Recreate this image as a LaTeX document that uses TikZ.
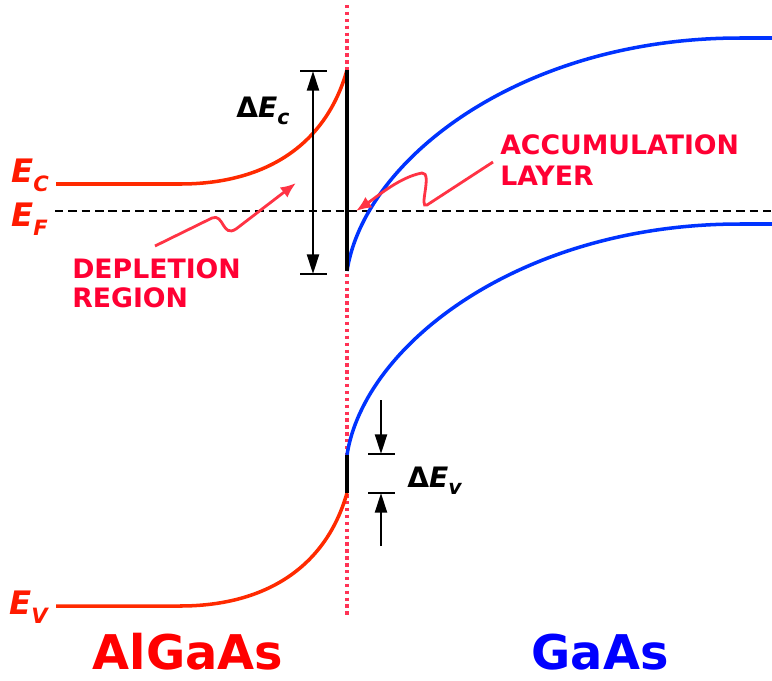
\documentclass[tikz,border=0pt]{standalone}
\usepackage{fontspec}
\setmainfont{DejaVu Sans}
\definecolor{hjred}{HTML}{FF2A00}
\definecolor{hjlabel}{HTML}{FF1A00}
\definecolor{hjcrimson}{HTML}{FF0033}
\definecolor{hjarrow}{HTML}{FF3344}
\definecolor{hjdot}{HTML}{FF3355}
\definecolor{hjblue}{HTML}{0033FF}
\definecolor{hjgaas}{HTML}{0000FF}
\usepackage{tikz}
\usetikzlibrary{arrows.meta, positioning, calc}

\newcommand{\bandlabel}[2]{{\fontsize{23}{23}\selectfont\bfseries\itshape #1\raisebox{-0.3em}{\fontsize{15}{15}\selectfont #2}}}
\newcommand{\gaplabel}[1]{{\fontsize{20}{20}\selectfont\bfseries Δ\itshape E\raisebox{-0.28em}{\fontsize{14.5}{14.5}\selectfont #1}}}

\begin{document}
\begin{tikzpicture}[x=0.025cm, y=-0.025cm,
    band/.style={line width=2.5pt},
    jump/.style={line width=2.8pt, black},
    tick/.style={line width=1.5pt, black},
    gaparrow/.style={line width=1.7pt, black, -{Triangle[length=14pt, width=8.5pt]}},
    pointer/.style={line width=2pt, hjarrow, -{Latex[length=11pt, width=9pt]}},
    note/.style={font=\fontsize{19}{22}\selectfont\bfseries, text=hjcrimson, align=left, inner sep=0pt},
    material/.style={font=\fontsize{34}{34}\selectfont\bfseries, inner sep=0pt, anchor=base, text depth=0pt},
  ]
    \useasboundingbox (0,0) rectangle (772,680);

    % interface and Fermi level
    \draw[hjdot, line width=2.2pt, dash pattern=on 2.4pt off 2.5pt] (347,5) -- (347,618);
    \draw[black, line width=1.5pt, dash pattern=on 6pt off 3.5pt] (55,211) -- (772,211);

    % AlGaAs bands
    \draw[band, hjred] (56,184) -- (180,184) .. controls (262,184) and (325,148) .. (347,70);
    \draw[band, hjred] (56,606) -- (180,606) .. controls (262,606) and (325,570) .. (347,493);

    % GaAs bands
    \draw[band, hjblue] (347,271) .. controls (364,160) and (520,38) .. (740,38) -- (772,38);
    \draw[band, hjblue] (347,455) .. controls (364,345) and (520,224) .. (740,224) -- (772,224);

    % band offsets at the interface
    \draw[jump] (347,70) -- (347,271);
    \draw[jump] (347,455) -- (347,493);

    % Delta E_c
    \coordinate (ecTop) at (313,71);
    \coordinate (ecBot) at (313,274);
    \draw[tick] ($(ecTop)+(-13,0)$) -- ($(ecTop)+(14,0)$);
    \draw[tick] ($(ecBot)+(-13,0)$) -- ($(ecBot)+(14,0)$);
    \draw[gaparrow, {Triangle[length=14pt, width=8.5pt]}-{Triangle[length=14pt, width=8.5pt]}] (ecTop) -- (ecBot);
    \node[anchor=base west, inner sep=0pt] (lblDEc) at (236,117) {\gaplabel{c}};

    % Delta E_v
    \coordinate (evTop) at (381,454);
    \coordinate (evBot) at (381,493);
    \coordinate (evIn) at (381,400);
    \coordinate (evOut) at (381,546);
    \draw[tick] ($(evTop)+(-13,0)$) -- ($(evTop)+(14,0)$);
    \draw[tick] ($(evBot)+(-13,0)$) -- ($(evBot)+(14,0)$);
    \draw[gaparrow] (evIn) -- (evTop);
    \draw[gaparrow] (evOut) -- (evBot);
    \node[anchor=base west, inner sep=0pt] (lblDEv) at (407,487) {\gaplabel{v}};

    % band names
    \node[anchor=base west, inner sep=0pt, text=hjlabel] (lblEc) at (11,182) {\bandlabel{E}{C}};
    \node[anchor=base west, inner sep=0pt, text=hjlabel] (lblEf) at (11,226) {\bandlabel{E}{F}};
    \node[anchor=base west, inner sep=0pt, text=hjlabel] (lblEv) at (9,614) {\bandlabel{E}{V}};

    % notes with pointers
    \node[note, anchor=base west] (depl) at (72,307) {DEPLETION\\[-2pt]REGION};
    \node[note, anchor=base west] (accu) at (500,185) {ACCUMULATION\\[0pt]LAYER};
    \coordinate (deplTip) at (296,183);
    \coordinate (accuTip) at (356,211);
    \draw[pointer] (155,246) -- (212,218) .. controls (224,213) and (222,238) .. (236,229) -- (deplTip);
    \draw[pointer] (493,162) -- (427,205) .. controls (418,210) and (433,172) .. (422,173)
      .. controls (400,177) and (378,196) .. (accuTip);

    % materials
    \node[material, text=red] (algaas) at (188,669) {AlGaAs};
    \node[material, text=hjgaas] (gaas) at (600,669) {GaAs};
\end{tikzpicture}
\end{document}
